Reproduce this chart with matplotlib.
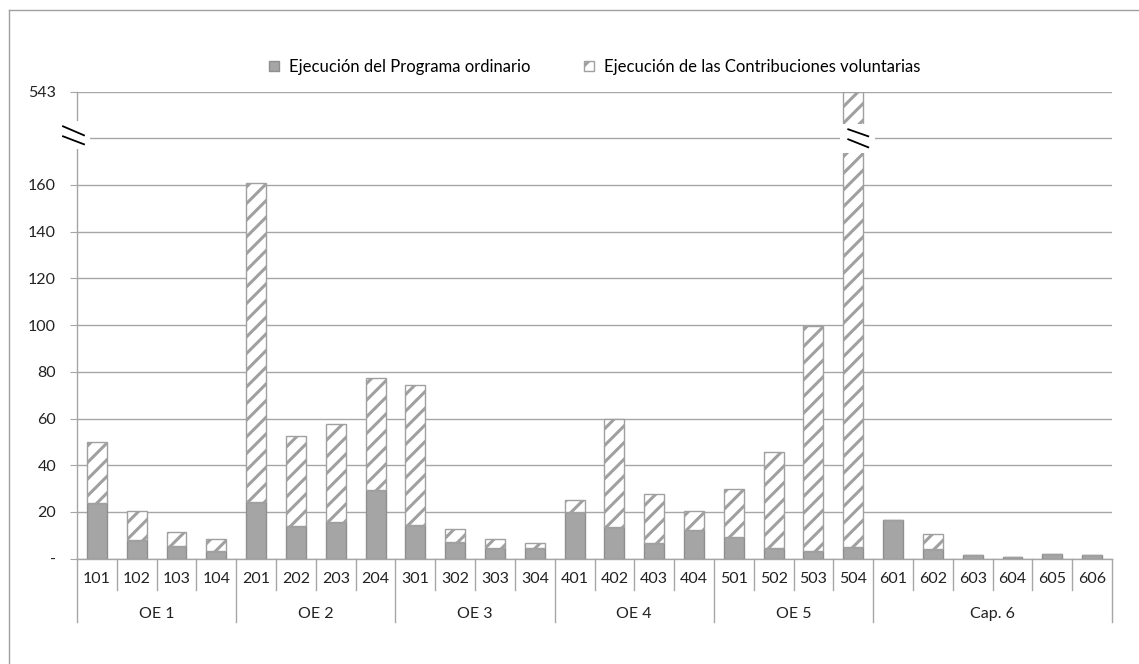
import numpy as np
import matplotlib
matplotlib.use("Agg")
import matplotlib.pyplot as plt
from matplotlib.patches import Rectangle, Patch
from matplotlib.lines import Line2D
from matplotlib.transforms import IdentityTransform, blended_transform_factory

plt.rcParams['font.family'] = ['Lato', 'DejaVu Sans']
plt.rcParams['hatch.linewidth'] = 2.2

# ---------------- data ----------------
groups = ['OE 1', 'OE 2', 'OE 3', 'OE 4', 'OE 5', 'Cap. 6']
group_sizes = [4, 4, 4, 4, 4, 6]
categories = ['101', '102', '103', '104',
              '201', '202', '203', '204',
              '301', '302', '303', '304',
              '401', '402', '403', '404',
              '501', '502', '503', '504',
              '601', '602', '603', '604', '605', '606']
programa_ordinario = [23.8, 8.0, 5.4, 3.4,
                      24.3, 14.0, 15.6, 29.4,
                      14.2, 7.2, 4.7, 4.7,
                      19.9, 13.7, 6.7, 12.1,
                      9.1, 4.5, 3.4, 5.0,
                      16.6, 4.2, 1.4, 0.5, 2.1, 1.4]
contribuciones_voluntarias = [26.3, 12.3, 6.2, 5.1,
                              136.4, 38.3, 42.2, 47.8,
                              60.0, 5.6, 3.5, 1.9,
                              5.0, 46.3, 20.8, 8.2,
                              20.8, 41.2, 96.2, 538.0,
                              0.0, 6.4, 0.0, 0.0, 0.0, 0.0]
y_ticks = [0, 20, 40, 60, 80, 100, 120, 140, 160, 180, 543]
y_tick_labels = ['-', '20', '40', '60', '80', '100', '120', '140', '160', '', '543']
legend_labels = ['Ejecución del Programa ordinario',
                 'Ejecución de las Contribuciones voluntarias']

# ---------------- figure ----------------
W, H = 1139, 664
FS = 11.5
fig = plt.figure(figsize=(W / 100, H / 100), dpi=100)
fig.patch.set_facecolor('white')

ax_left, ax_right = 77, 1112
ax_top, ax_bot = 91.6, 558.6
ax = fig.add_axes([ax_left / W, 1 - ax_bot / H, (ax_right - ax_left) / W, (ax_bot - ax_top) / H])

BREAK_AT, TOP_VAL = 180.0, 543.0
COMPRESS = 20.0 / (TOP_VAL - BREAK_AT)


def fwd(v):
    v = np.asarray(v, dtype=float)
    return np.where(v <= BREAK_AT, v, BREAK_AT + (v - BREAK_AT) * COMPRESS)


def inv(u):
    u = np.asarray(u, dtype=float)
    return np.where(u <= BREAK_AT, u, BREAK_AT + (u - BREAK_AT) / COMPRESS)


ax.set_yscale('function', functions=(fwd, inv))
ax.set_ylim(0, TOP_VAL)
n = len(categories)
ax.set_xlim(-0.5, n - 0.5)

grid_col = '#a6a6a6'
x = np.arange(n)
ord_arr = np.array(programa_ordinario)
vol_arr = np.array(contribuciones_voluntarias)

b1 = ax.bar(x, ord_arr, width=0.5, color='#a5a5a5', edgecolor='#8f8f8f', linewidth=1, zorder=3)
b2 = ax.bar(x, vol_arr, width=0.5, bottom=ord_arr, color='white', edgecolor='#a0a0a0',
            hatch='//', linewidth=1, zorder=3)

ax.set_yticks(y_ticks)
ax.set_yticklabels(y_tick_labels)
ax.yaxis.set_minor_locator(matplotlib.ticker.NullLocator())
ax.tick_params(axis='y', length=5, color=grid_col, pad=10, labelsize=FS, labelcolor='#222222')
ax.grid(axis='y', color=grid_col, linewidth=1, zorder=0)
ax.set_axisbelow(True)

ax.set_xticks(x)
ax.set_xticklabels(categories)
ax.tick_params(axis='x', length=0, pad=10, labelsize=FS, labelcolor='#222222')

for s in ['top', 'right']:
    ax.spines[s].set_visible(False)
for s in ['left', 'bottom']:
    ax.spines[s].set_color(grid_col)
    ax.spines[s].set_linewidth(1)

# category / group separators below the axis
axh = ax_bot - ax_top
trans = blended_transform_factory(ax.transData, ax.transAxes)
short = -(590 - ax_bot) / axh
long_ = -(622 - ax_bot) / axh
bounds = np.cumsum([0] + group_sizes)
group_edges = set(bounds.tolist())
for k in range(n + 1):
    yb = long_ if k in group_edges else short
    ax.plot([k - 0.5, k - 0.5], [0, yb], transform=trans, color=grid_col, lw=1, clip_on=False)
for g, name in enumerate(groups):
    cx = (bounds[g] + bounds[g + 1]) / 2 - 0.5
    ax.text(cx, -(614 - ax_bot) / axh, name, transform=trans, ha='center', va='center',
            fontsize=FS, color='#222222')

# legend
handles = [Patch(facecolor='#a5a5a5', edgecolor='#8f8f8f', label=legend_labels[0]),
           Patch(facecolor='white', edgecolor='#a0a0a0', hatch='//', label=legend_labels[1])]
fig.legend(handles=handles, loc='center', bbox_to_anchor=(595 / W, 1 - 67 / H), ncol=2,
           frameon=False, handlelength=0.6, handleheight=0.6, handletextpad=0.6,
           columnspacing=3.2, fontsize=12)

# ---------------- axis break decorations ----------------
fig.canvas.draw()
ident = IdentityTransform()


def add_white(x0, y0, x1, y1):
    # pixel coords measured from top of image
    r = Rectangle((x0, H - y1), x1 - x0, y1 - y0, transform=ident, facecolor='white',
                  edgecolor='none', zorder=10)
    fig.add_artist(r)


def add_line(x0, y0, x1, y1):
    fig.add_artist(Line2D([x0, x1], [H - y0, H - y1], transform=ident, color='black',
                          lw=1.3, zorder=11))


# position of break on y-axis
px_axis, py_break = ax.transData.transform((-0.5, BREAK_AT))
yb = H - py_break
add_white(px_axis - 18, yb - 17, px_axis + 13, yb + 11)
add_line(px_axis - 14, yb - 12, px_axis + 7, yb - 3)
add_line(px_axis - 14, yb - 2, px_axis + 7, yb + 6)

# break on tall bar
idx = int(np.argmax(ord_arr + vol_arr))
px_bar, _ = ax.transData.transform((idx, BREAK_AT))
add_white(px_bar - 13, yb - 14, px_bar + 22, yb + 15)
add_line(px_bar - 5, yb - 9, px_bar + 15, yb - 2)
add_line(px_bar - 5, yb + 1, px_bar + 15, yb + 9)

# outer frame
fig.add_artist(Line2D([9, W], [H - 10, H - 10], transform=ident, color='#a0a0a0', lw=1))
fig.add_artist(Line2D([9, 9], [0, H - 10], transform=ident, color='#a0a0a0', lw=1))

fig.savefig('out.png', dpi=100)
